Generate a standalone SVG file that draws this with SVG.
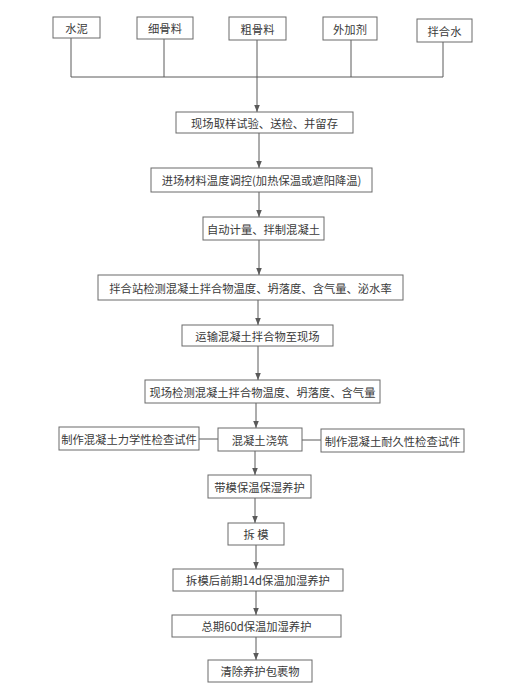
<svg xmlns="http://www.w3.org/2000/svg" width="527" height="693" viewBox="0 0 527 693">
<style>
.b{fill:#fff;stroke:#6a6a6a;stroke-width:1}
.t{font-family:"Noto Sans CJK SC","Noto Sans",sans-serif;font-size:11.3px;fill:#3a3a3a;text-anchor:middle;dominant-baseline:central}
.c{stroke:#5a5a5a;stroke-width:1;fill:none}
.a{stroke:#5a5a5a;stroke-width:1;fill:none;marker-end:url(#ar)}
</style>
<defs>
<marker id="ar" markerWidth="8" markerHeight="8" refX="7" refY="4" orient="auto" markerUnits="userSpaceOnUse">
<path d="M0,1.2 L7,4 L0,6.8 Z" fill="#5a5a5a"/>
</marker>
</defs>
<rect width="527" height="693" fill="#fff"/>
<g id="connectors">
<path class="c" d="M71,38 V77 M164,39 V77 M351,40 V77 M443,42 V77 M71,77 H443"/>
<path class="a" d="M257,40 V112"/>
<path class="a" d="M259,133 V168"/>
<path class="a" d="M259,192 V217"/>
<path class="a" d="M259,240 V275"/>
<path class="a" d="M258,300 V325"/>
<path class="a" d="M258,346 V380"/>
<path class="a" d="M256,403 V428"/>
<path class="a" d="M255,451 V475"/>
<path class="a" d="M255,498 V523"/>
<path class="a" d="M256,545 V569"/>
<path class="a" d="M256,591 V615"/>
<path class="a" d="M256,637 V660"/>
<path class="c" d="M199,439 H218 M302,440 H321"/>
</g>
<g id="n1"><rect class="b" x="53" y="17" width="47" height="21"/><text class="t" x="76.5" y="27.5">水泥</text></g>
<g id="n2"><rect class="b" x="137" y="17" width="56" height="22"/><text class="t" x="165" y="28">细骨料</text></g>
<g id="n3"><rect class="b" x="229" y="17" width="57" height="23"/><text class="t" x="257.5" y="28.5">粗骨料</text></g>
<g id="n4"><rect class="b" x="323" y="17" width="54" height="23"/><text class="t" x="350" y="28.5">外加剂</text></g>
<g id="n5"><rect class="b" x="417" y="19" width="55" height="23"/><text class="t" x="444.5" y="30.5">拌合水</text></g>
<g id="n6"><rect class="b" x="176" y="112" width="177" height="21"/><text class="t" x="264.5" y="122.5">现场取样试验、送检、并留存</text></g>
<g id="n7"><rect class="b" x="151" y="168" width="221" height="24"/><text class="t" x="261.5" y="180">进场材料温度调控(加热保温或遮阳降温)</text></g>
<g id="n8"><rect class="b" x="203" y="217" width="121" height="23"/><text class="t" x="263.5" y="228.5">自动计量、拌制混凝土</text></g>
<g id="n9"><rect class="b" x="98" y="275" width="305" height="25"/><text class="t" x="250.5" y="287.5">拌合站检测混凝土拌合物温度、坍落度、含气量、泌水率</text></g>
<g id="n10"><rect class="b" x="182" y="325" width="151" height="21"/><text class="t" x="257.5" y="335.5">运输混凝土拌合物至现场</text></g>
<g id="n11"><rect class="b" x="145" y="380" width="235" height="23"/><text class="t" x="262.5" y="391.5">现场检测混凝土拌合物温度、坍落度、含气量</text></g>
<g id="n12"><rect class="b" x="59" y="427" width="140" height="23"/><text class="t" x="129" y="438.5">制作混凝土力学性检查试件</text></g>
<g id="n13"><rect class="b" x="218" y="428" width="84" height="23"/><text class="t" x="260" y="439.5">混凝土浇筑</text></g>
<g id="n14"><rect class="b" x="321" y="429" width="143" height="23"/><text class="t" x="392.5" y="440.5">制作混凝土耐久性检查试件</text></g>
<g id="n15"><rect class="b" x="208" y="475" width="103" height="23"/><text class="t" x="259.5" y="486.5">带模保温保湿养护</text></g>
<g id="n16"><rect class="b" x="228" y="523" width="56" height="22"/><text class="t" x="256" y="534">拆 模</text></g>
<g id="n17"><rect class="b" x="173" y="569" width="170" height="22"/><text class="t" x="258" y="580">拆模后前期14d保温加湿养护</text></g>
<g id="n18"><rect class="b" x="172" y="615" width="169" height="22"/><text class="t" x="256.5" y="626">总期60d保温加湿养护</text></g>
<g id="n19"><rect class="b" x="208" y="660" width="104" height="22"/><text class="t" x="260" y="671">清除养护包裹物</text></g>
</svg>
